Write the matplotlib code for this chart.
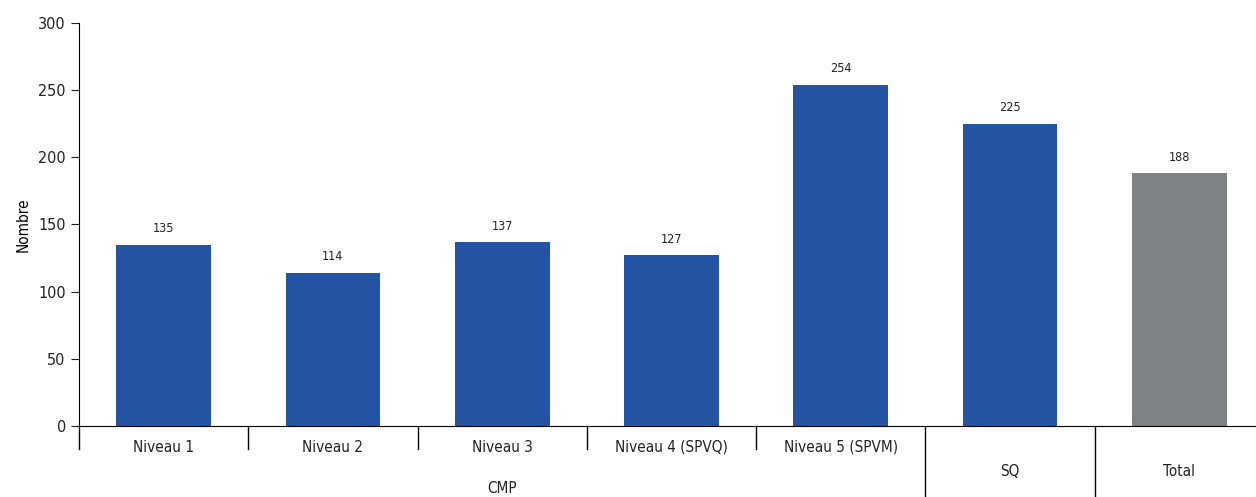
import matplotlib.pyplot as plt
import matplotlib.transforms as mtransforms

plt.rcParams['font.family'] = ['DejaVu Sans']
plt.rcParams['font.stretch'] = 'condensed'

categories = ['Niveau 1', 'Niveau 2', 'Niveau 3', 'Niveau 4 (SPVQ)', 'Niveau 5 (SPVM)', 'SQ', 'Total']
values = [135, 114, 137, 127, 254, 225, 188]
colors = ['#2554a4'] * 6 + ['#808184']
group_label = 'CMP'

fig = plt.figure(figsize=(12.56, 4.97), dpi=100)
ax = fig.add_axes([79 / 1256, 71 / 497, 1185 / 1256, 403 / 497])

x = list(range(len(categories)))
ax.bar(x, values, width=0.56, color=colors, zorder=2)
for xi, v in zip(x, values):
    ax.text(xi, v + 7, str(v), ha='center', va='bottom', fontsize=9, color='#222222')

ax.set_xlim(-0.5, len(categories) - 0.5)
ax.set_ylim(0, 300)
ax.set_yticks(range(0, 301, 50))
ax.tick_params(axis='y', direction='out', length=6, labelsize=11.5, colors='#222222')
ax.set_xticks([])
ax.spines['top'].set_visible(False)
ax.spines['right'].set_visible(False)
ax.set_ylabel('Nombre', fontsize=11)
ax.yaxis.set_label_coords(-0.041, 0.5)

trans = mtransforms.blended_transform_factory(ax.transData, ax.transAxes)
# separators under the axis
for b in range(7):
    x0 = b - 0.5
    if b < 5:
        ax.plot([x0, x0], [0, -0.057], transform=trans, color='black', lw=1, clip_on=False)
    else:
        ax.plot([x0, x0], [0, -0.18], transform=trans, color='black', lw=1, clip_on=False)

for xi, lab in zip(x, categories):
    y = -0.053 if xi < 5 else -0.113
    ax.text(xi, y, lab, transform=trans, ha='center', va='center', fontsize=11, color='#222222')

ax.text(2, -0.155, group_label, transform=trans, ha='center', va='center', fontsize=11, color='#222222')

fig.savefig('out.png', dpi=100)
